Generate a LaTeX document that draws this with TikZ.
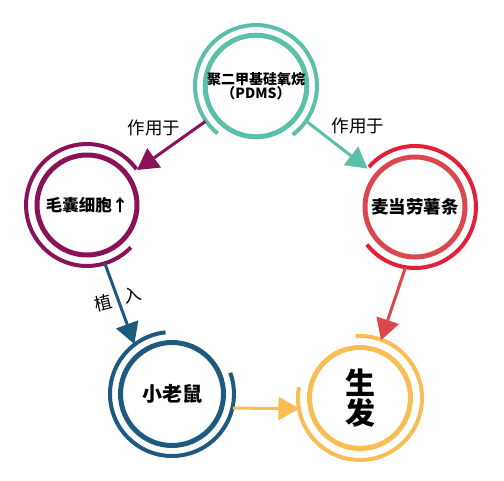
\documentclass[tikz,border=0pt]{standalone}
\usepackage{fontspec}
\newfontfamily\cjk{Noto Sans CJK SC}
\usetikzlibrary{arrows.meta}
\definecolor{PDMSteal}{HTML}{5CBFA9}
\definecolor{HairPurple}{HTML}{8A1258}
\definecolor{FryRed}{HTML}{E41E38}
\definecolor{FryRose}{HTML}{DA484E}
\definecolor{MouseBlue}{HTML}{1E5A80}
\definecolor{GrowGold}{HTML}{F9BD55}
\tikzset{
   hub/.style={circle, draw=#1, line width=5pt, minimum size=100pt, inner sep=0pt,
      outer sep=11pt, align=center, text=black},
   ring/.style={draw=#1, line width=4pt},
   flow/.style={color=#1, line width=3pt, -{Triangle[length=21pt, width=23pt]}},
   verb/.style={font=\cjk\fontsize{17.5}{19}\selectfont}
}

\begin{document}
\begin{tikzpicture}[x=1pt, y=1pt]
            \useasboundingbox (0,0) rectangle (504,-480);
            % the five circles
            \node[hub=PDMSteal, font=\cjk\bfseries\fontsize{14}{12}\selectfont] (pdms) at (256,-86) {聚二甲基硅氧烷\\（PDMS）};
            \node[hub=HairPurple, font=\cjk\bfseries\fontsize{16.5}{18}\selectfont] (hair) at (87,-205) {毛囊细胞↑};
            \node[hub=FryRose, font=\cjk\bfseries\fontsize{17.5}{20}\selectfont] (fries) at (415,-207) {麦当劳薯条};
            \node[hub=MouseBlue, minimum size=103pt, font=\cjk\bfseries\fontsize{20}{22}\selectfont] (mouse) at (172,-394) {小老鼠};
            \node[hub=GrowGold, minimum size=101pt, font=\cjk\bfseries\fontsize{30}{30}\selectfont] (grow) at (360,-398) {生\\发};
            % open outer rings
            \draw[ring=PDMSteal] (pdms.center) ++(-53:61) arc[start angle=-53, end angle=231, radius=61];
            \draw[ring=HairPurple] (hair.center) ++(36:61) arc[start angle=36, end angle=316, radius=61];
            \draw[ring=FryRed] (fries.center) ++(-142:61) arc[start angle=-142, end angle=139, radius=61];
            \draw[ring=MouseBlue] (mouse.center) ++(96:62) arc[start angle=96, end angle=380, radius=62];
            \draw[ring=GrowGold] (grow.center) ++(170:62) arc[start angle=170, end angle=454, radius=62];
            % connectors
            \draw[flow=HairPurple] (pdms.215) -- (hair.35);
            \draw[flow=PDMSteal] (pdms.-35) -- (fries.141);
            \draw[flow=MouseBlue] (hair.-73) -- (mouse.127);
            \draw[flow=FryRose] (fries.-99) -- (grow.70);
            \draw[flow=GrowGold] (mouse.-13) -- (grow.190);
            \node[verb] (actl) at (154,-128) {作用于};
            \node[verb] (actr) at (358,-126) {作用于};
            \node[verb, rotate=14] (implant) at (118,-299) {植\hspace{0.75em}入};
         \end{tikzpicture}
\end{document}
